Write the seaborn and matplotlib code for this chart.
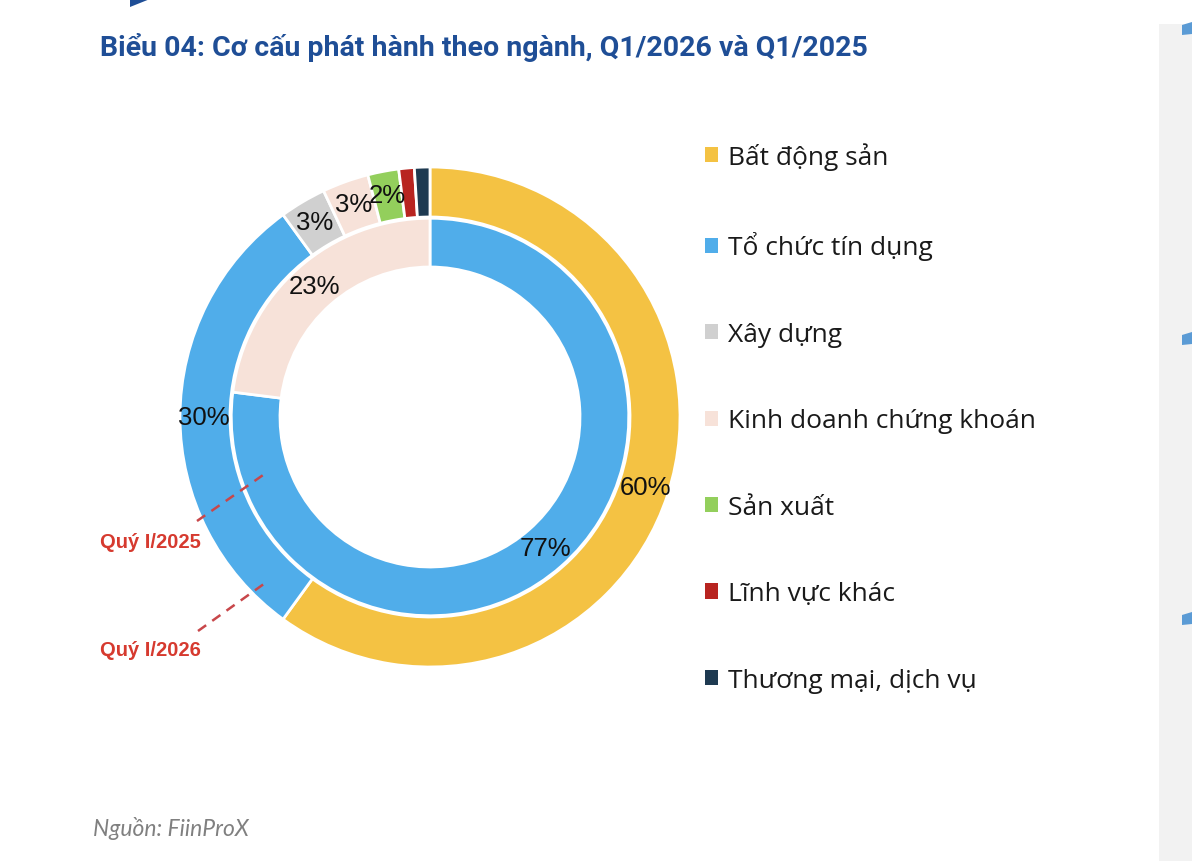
import numpy as np
import matplotlib
matplotlib.use('Agg')
import matplotlib.pyplot as plt
import seaborn as sns
from matplotlib.patches import Rectangle, Polygon

sns.set_theme(style='white')

categories = ['Bất động sản', 'Tổ chức tín dụng', 'Xây dựng', 'Kinh doanh chứng khoán',
              'Sản xuất', 'Lĩnh vực khác', 'Thương mại, dịch vụ']
q1_2026 = [60, 30, 3, 3, 2, 1, 1]
q1_2025 = [0, 77, 0, 23, 0, 0, 0]
colors = ['#F4C243', '#50ADEA', '#D0D0D0', '#F7E2D9', '#93CF5C', '#B82420', '#1E3A51']

W, H = 1192, 862
fig = plt.figure(figsize=(W / 100, H / 100), dpi=100)
fig.patch.set_facecolor('white')

# decorative side panel
fig.patches.append(Rectangle((1159 / W, 0), 40 / W, 1 - 25 / H, transform=fig.transFigure,
                             facecolor='#F2F2F2', edgecolor='none', zorder=0))
for yy in [30, 340, 620]:
    fig.patches.append(Polygon([(1182 / W, 1 - (yy - 4) / H), (1192 / W, 1 - (yy - 7) / H),
                                (1192 / W, 1 - (yy + 5) / H), (1182 / W, 1 - (yy + 6) / H)],
                               closed=True, transform=fig.transFigure,
                               facecolor='#5B9BD5', edgecolor='none'))
fig.patches.append(Polygon([(130 / W, 1.0), (150 / W, 1.0), (130 / W, 1 - 8 / H)], closed=True,
                           transform=fig.transFigure, facecolor='#1F4E96', edgecolor='none'))

ax = fig.add_axes([180 / W, (H - 418 - 250) / H, 500 / W, 500 / H])

label_font = dict(family='Liberation Sans', size=18.5, color='#111111')


def pct_fmt(v):
    return f'{v:.0f}%' if v >= 1.5 else ''


outer_wedges, _, outer_txt = ax.pie(
    q1_2026, colors=colors, radius=1.0, startangle=90, counterclock=False,
    autopct=pct_fmt, pctdistance=0.905,
    wedgeprops=dict(width=0.2, edgecolor='white', linewidth=2),
    textprops=label_font)

inner_idx = [i for i, v in enumerate(q1_2025) if v > 0]
ax.pie([q1_2025[i] for i in inner_idx], colors=[colors[i] for i in inner_idx],
       radius=0.795, startangle=90, counterclock=False,
       autopct=pct_fmt, pctdistance=0.88,
       wedgeprops=dict(width=0.195, edgecolor='white', linewidth=2),
       textprops=label_font)

ax.set_xlim(-1, 1)
ax.set_ylim(-1, 1)
ax.set_aspect('equal')
ax.axis('off')

# period callouts
red = '#D63A2F'
ax.plot([-0.932, -0.656], [-0.416, -0.224], ls=(0, (4, 3)), color='#C8474A', lw=1.8, clip_on=False)
ax.plot([-0.928, -0.648], [-0.856, -0.656], ls=(0, (4, 3)), color='#C8474A', lw=1.8, clip_on=False)
ax.text(-1.12, -0.50, 'Quý I/2025', ha='center', va='center', color=red,
        fontsize=14.5, fontweight='bold', family='Liberation Sans')
ax.text(-1.12, -0.932, 'Quý I/2026', ha='center', va='center', color=red,
        fontsize=14.5, fontweight='bold', family='Liberation Sans')

leg = fig.legend(outer_wedges, categories, loc='upper left',
                 bbox_to_anchor=(692 / W, 1 - 130 / H), frameon=False,
                 prop=dict(family='Open Sans', size=19),
                 handlelength=0.5, handleheight=0.5, handletextpad=0.35,
                 labelspacing=2.33, borderpad=0)
for t in leg.get_texts():
    t.set_color('#1A1A1A')
for h in leg.legend_handles:
    h.set_edgecolor('none')

fig.text(100 / W, 1 - 47 / H, 'Biểu 04: Cơ cấu phát hành theo ngành, Q1/2026 và Q1/2025',
         ha='left', va='center', color='#1F4E96', fontsize=20.5, fontweight='bold',
         family='Roboto')
fig.text(93 / W, 1 - 829 / H, 'Nguồn: FiinProX', ha='left', va='center', color='#808080',
         fontsize=16.5, style='italic', family='Lato')

fig.savefig('out.png', dpi=100)
